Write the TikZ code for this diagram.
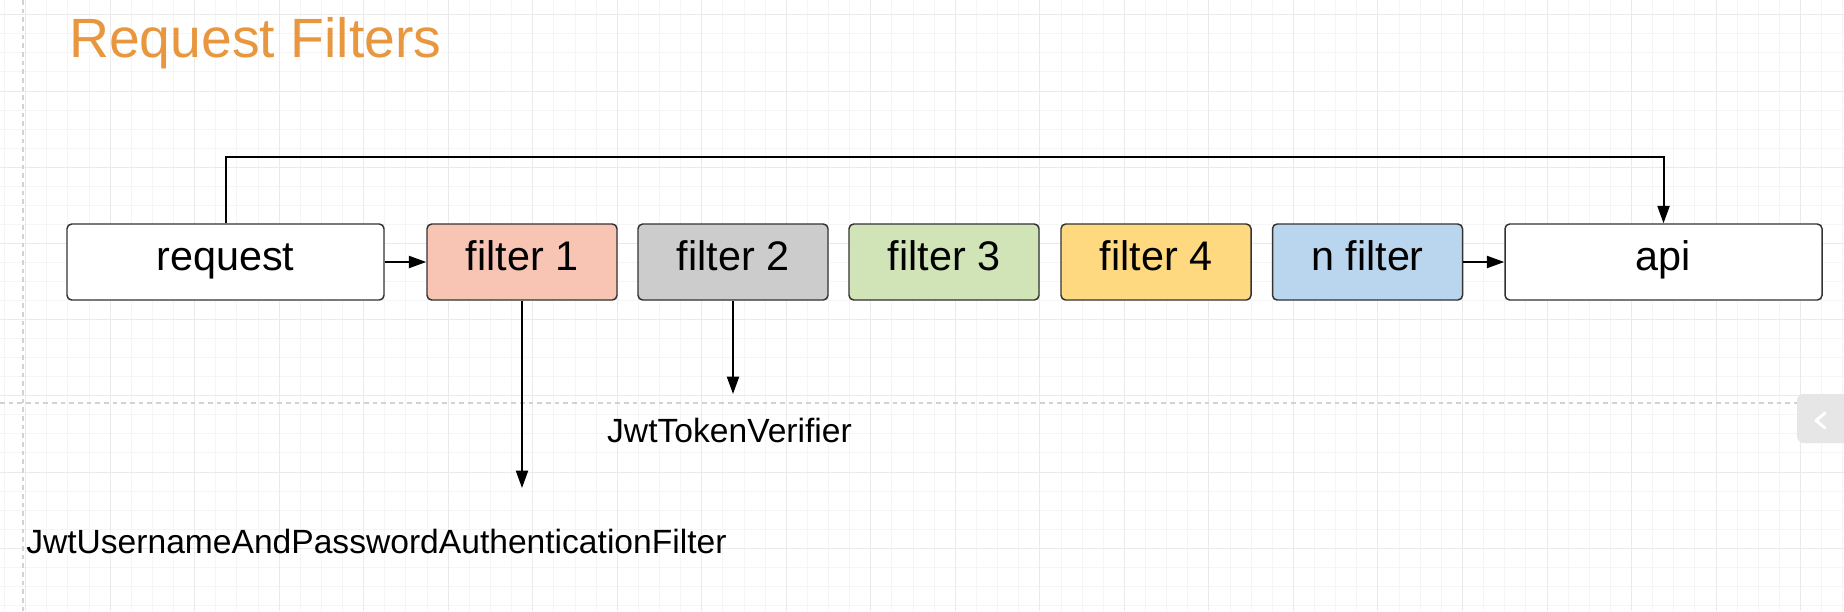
\documentclass[tikz,border=0pt]{standalone}
\usepackage{fontspec}
\setmainfont{Liberation Sans}
\usetikzlibrary{arrows.meta,calc}
\definecolor{fone}{HTML}{F8C4B3}
\definecolor{ftwo}{HTML}{CCCCCC}
\definecolor{fthree}{HTML}{D0E4B7}
\definecolor{ffour}{HTML}{FFD97F}
\definecolor{fn}{HTML}{BAD6EF}
\definecolor{boxline}{HTML}{333333}
\definecolor{titleorange}{HTML}{E8973F}
\definecolor{gridminor}{HTML}{F5F5F5}
\definecolor{gridmajor}{HTML}{EAEAEA}
\definecolor{pageline}{HTML}{D2D2D2}
\definecolor{tabgray}{HTML}{E6E6E6}
\begin{document}
\begin{tikzpicture}[x=0.75pt,y=-0.75pt,
  box/.style={draw=boxline, line width=1.1pt, rounded corners=3.5pt,
    minimum height=57pt, inner sep=0pt,
    font=\fontsize{31}{36}\selectfont, text height=18.6pt, text depth=6.2pt},
  wide/.style={minimum width=237.75pt},
  narrow/.style={minimum width=142.5pt},
  arr/.style={-{Triangle[length=13pt,width=9pt]}, line width=1.5pt, black},
  lbl/.style={inner sep=0pt, font=\fontsize{25.2}{30}\selectfont},
  minorline/.style={draw=gridminor, line width=0.75pt},
  majorline/.style={draw=gridmajor, line width=0.75pt},
]
\useasboundingbox (0,0) rectangle (1844,611);
\fill[white] (0,0) rectangle (1844,611);
\begin{scope}
\clip (0,0) rectangle (1844,611);
% background grid
\foreach \i in {0,...,87} \draw[minorline] ({4.5+21.13*\i},0) -- ({4.5+21.13*\i},611);
\foreach \j in {-1,...,31} \draw[minorline] (0,{14.8+19.05*\j}) -- (1844,{14.8+19.05*\j});
\foreach \i in {1,5,...,85} \draw[majorline] ({4.5+21.13*\i},0) -- ({4.5+21.13*\i},611);
\foreach \j in {0,4,...,28} \draw[majorline] (0,{14.8+19.05*\j}) -- (1844,{14.8+19.05*\j});
% page break lines
\draw[pageline, line width=1pt, dash pattern=on 3.5pt off 3pt] (0,403) -- (1844,403);
\draw[pageline, line width=1pt, dash pattern=on 3.5pt off 3pt] (23,0) -- (23,611);
% side tab
\fill[tabgray, rounded corners=5pt] (1797,394) rectangle (1860,443);
\draw[white, line width=2.2pt, line cap=round, line join=round] (1825,413) -- (1816,420.5) -- (1825,428);
\end{scope}

% title
\node[anchor=base west, inner sep=0pt, text=titleorange, font=\fontsize{41.5}{48}\selectfont] (title) at (69,57) {Request Filters};

% boxes
\node[box, wide, fill=white] (request) at (225.5,262) {request};
\node[box, narrow, fill=fone] (f1) at (522,262) {filter 1};
\node[box, narrow, fill=ftwo] (f2) at (733,262) {filter 2};
\node[box, narrow, fill=fthree] (f3) at (944,262) {filter 3};
\node[box, narrow, fill=ffour] (f4) at (1156,262) {filter 4};
\node[box, narrow, fill=fn] (fn) at (1367.5,262) {n filter};
\node[box, wide, fill=white] (api) at (1663.5,262) {api};

% labels
\node[lbl, anchor=base] (tok) at (729.5,442) {JwtTokenVerifier};
\node[lbl, anchor=base west] (auth) at (26,553) {JwtUsernameAndPasswordAuthenticationFilter};

% connectors
\coordinate (topy) at (0,157);
\coordinate (e1) at (522,488);
\coordinate (e2) at (733,394);
\draw[arr] (request.east) -- (f1.west);
\draw[arr] (fn.east) -- (api.west);
\draw[arr] (request.north) -- (request.north |- topy) -| (api.north);
\draw[arr] (f1.south) -- (e1);
\draw[arr] (f2.south) -- (e2);
\end{tikzpicture}
\end{document}
